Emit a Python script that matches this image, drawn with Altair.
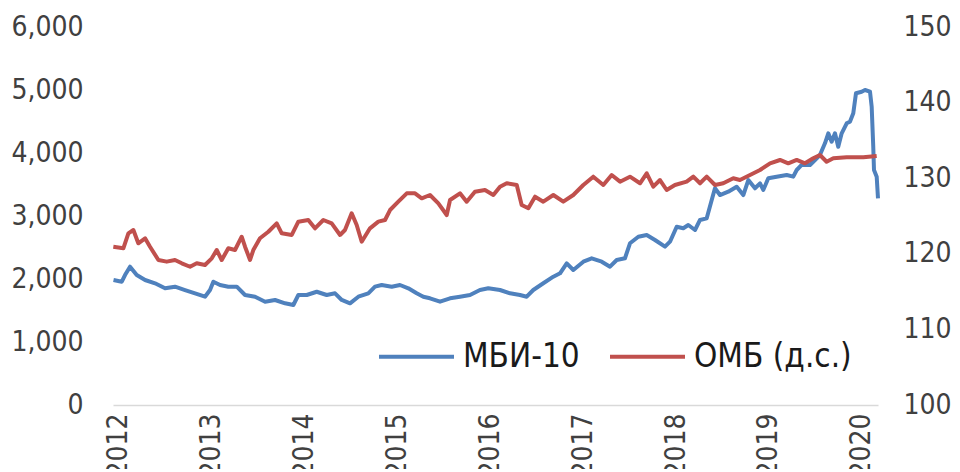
import altair as alt
import pandas as pd

# Decimal-year positions and values
mbi_t = [2011.978, 2012.067, 2012.102, 2012.156, 2012.228, 2012.318, 2012.425, 2012.533, 2012.640, 2012.748,
         2012.856, 2012.963, 2013.017, 2013.053, 2013.125, 2013.214, 2013.305, 2013.394, 2013.502, 2013.610,
         2013.717, 2013.825, 2013.914, 2013.968, 2014.058, 2014.166, 2014.273, 2014.363, 2014.435, 2014.524,
         2014.614, 2014.721, 2014.793, 2014.865, 2014.973, 2015.062, 2015.152, 2015.242, 2015.313, 2015.385,
         2015.493, 2015.601, 2015.708, 2015.816, 2015.923, 2016.013, 2016.139, 2016.247, 2016.354, 2016.426,
         2016.497, 2016.605, 2016.713, 2016.785, 2016.857, 2016.928, 2017.036, 2017.126, 2017.234, 2017.323,
         2017.395, 2017.484, 2017.538, 2017.628, 2017.718, 2017.807, 2017.915, 2017.969, 2018.041, 2018.112,
         2018.166, 2018.238, 2018.292, 2018.364, 2018.418, 2018.453, 2018.507, 2018.596, 2018.687, 2018.758,
         2018.812, 2018.884, 2018.938, 2018.973, 2019.027, 2019.117, 2019.225, 2019.296, 2019.333, 2019.386,
         2019.476, 2019.530, 2019.583, 2019.637, 2019.673, 2019.709, 2019.745, 2019.780, 2019.817, 2019.871,
         2019.906, 2019.942, 2019.971, 2020.032, 2020.068, 2020.122, 2020.140, 2020.157, 2020.165, 2020.194,
         2020.208]
mbi_v = [1984, 1957, 2063, 2195, 2063, 1984, 1932, 1852, 1878, 1825,
         1773, 1719, 1825, 1957, 1905, 1878, 1878, 1746, 1719, 1640,
         1667, 1614, 1587, 1746, 1746, 1798, 1746, 1773, 1667, 1614,
         1719, 1773, 1878, 1905, 1878, 1905, 1852, 1773, 1719, 1694,
         1640, 1694, 1719, 1746, 1825, 1852, 1825, 1773, 1746, 1719,
         1825, 1932, 2037, 2090, 2249, 2143, 2275, 2329, 2275, 2195,
         2302, 2329, 2567, 2671, 2698, 2619, 2513, 2592, 2830, 2805,
         2857, 2778, 2937, 2963, 3254, 3440, 3333, 3386, 3465, 3333,
         3571, 3440, 3519, 3413, 3598, 3624, 3651, 3624, 3730, 3810,
         3810, 3889, 3968, 4154, 4313, 4179, 4313, 4100, 4313, 4471,
         4497, 4630, 4948, 4973, 5000, 4973, 4735, 4100, 3730, 3624,
         3281]

omb_t = [2011.976, 2012.084, 2012.138, 2012.192, 2012.245, 2012.318, 2012.371, 2012.461, 2012.551, 2012.640,
         2012.713, 2012.802, 2012.874, 2012.963, 2013.036, 2013.089, 2013.143, 2013.214, 2013.286, 2013.358,
         2013.394, 2013.448, 2013.483, 2013.555, 2013.645, 2013.735, 2013.789, 2013.897, 2013.968, 2014.075,
         2014.147, 2014.237, 2014.327, 2014.417, 2014.470, 2014.542, 2014.596, 2014.650, 2014.739, 2014.829,
         2014.901, 2014.955, 2015.044, 2015.135, 2015.224, 2015.296, 2015.385, 2015.475, 2015.565, 2015.601,
         2015.708, 2015.780, 2015.869, 2015.977, 2016.067, 2016.139, 2016.211, 2016.319, 2016.372, 2016.444,
         2016.516, 2016.605, 2016.713, 2016.820, 2016.928, 2017.036, 2017.143, 2017.251, 2017.341, 2017.431,
         2017.538, 2017.646, 2017.718, 2017.789, 2017.861, 2017.933, 2018.022, 2018.148, 2018.220, 2018.292,
         2018.364, 2018.453, 2018.542, 2018.650, 2018.722, 2018.830, 2018.938, 2019.046, 2019.153, 2019.242,
         2019.333, 2019.422, 2019.511, 2019.583, 2019.655, 2019.727, 2019.871, 2020.050, 2020.194]
omb_v = [120.94, 120.73, 122.71, 123.15, 121.39, 122.05, 120.94, 119.18, 118.96, 119.18,
         118.74, 118.29, 118.74, 118.52, 119.40, 120.50, 119.18, 120.73, 120.50, 122.26,
         120.94, 119.18, 120.50, 122.05, 122.92, 124.03, 122.71, 122.49, 124.25, 124.47,
         123.37, 124.47, 124.03, 122.49, 123.15, 125.36, 123.81, 121.60, 123.37, 124.25,
         124.47, 125.79, 126.89, 128.00, 128.00, 127.34, 127.78, 126.68, 125.13, 127.12,
         128.00, 126.89, 128.21, 128.44, 127.78, 128.88, 129.33, 129.10, 126.46, 126.02,
         127.55, 126.89, 127.78, 126.89, 127.78, 129.10, 130.20, 129.10, 130.42, 129.54,
         130.20, 129.33, 130.65, 128.88, 129.76, 128.44, 129.10, 129.54, 130.20, 129.33,
         130.20, 129.10, 129.33, 129.99, 129.76, 130.42, 131.08, 131.97, 132.41, 131.97,
         132.41, 131.97, 132.63, 133.07, 132.18, 132.63, 132.76, 132.76, 132.94]

series_names = ["МБИ-10", "ОМБ (д.с.)"]
series_colors = ["#4F81BD", "#C0504D"]
left_ticks = [0, 1000, 2000, 3000, 4000, 5000, 6000]
right_ticks = [100, 110, 120, 130, 140, 150]
years = list(range(2012, 2021))

FONT = "DejaVu Sans Condensed, DejaVu Sans"
AXIS_COLOR = "#404040"

# calendar date at which the decimal-year readings above equal 2012.0
READ_ORIGIN = pd.Timestamp("2011-12-20")


def to_dates(ts):
    return [(READ_ORIGIN + pd.to_timedelta((t - 2012) * 365.25, unit="D")).strftime("%Y-%m-%dT%H:%M:%S")
            for t in ts]


df_mbi = pd.DataFrame({"date": to_dates(mbi_t), "value": mbi_v, "series": series_names[0]})
df_omb = pd.DataFrame({"date": to_dates(omb_t), "value": omb_v, "series": series_names[1]})

x_enc = alt.X(
    "date:T",
    scale=alt.Scale(domain=[alt.DateTime(year=2011, month=12, date=10),
                            alt.DateTime(year=2020, month=3, date=5)]),
    axis=alt.Axis(
        title=None,
        values=[alt.DateTime(year=y, month=1, date=1) for y in years],
        format="%Y",
        labelAngle=270,
        labelFont=FONT,
        labelFontSize=28,
        labelColor=AXIS_COLOR,
        labelPadding=8,
        labelOverlap=False,
        labelFlush=False,
        labelBound=False,
        ticks=False,
        grid=False,
        domainColor="#d9d9d9",
        domainWidth=1.5,
    ),
)

color_enc = alt.Color(
    "series:N",
    scale=alt.Scale(domain=series_names, range=series_colors),
    legend=alt.Legend(
        title=None,
        orient="none",
        legendX=264,
        legendY=290,
        direction="horizontal",
        symbolType="stroke",
        symbolSize=5625,
        symbolStrokeWidth=4,
        labelFont=FONT,
        labelFontSize=33,
        labelColor="#1a1a1a",
        labelOffset=7,
        columnPadding=22,
        padding=0,
    ),
)

blue = alt.Chart(df_mbi).mark_line(strokeWidth=4, strokeJoin="round").encode(
    x=x_enc,
    y=alt.Y(
        "value:Q",
        scale=alt.Scale(domain=[0, 6000], nice=False),
        axis=alt.Axis(
            orient="left", title=None, values=left_ticks, format=",.0f",
            labelFont=FONT, labelFontSize=28, labelColor=AXIS_COLOR,
            labelPadding=30, ticks=False, domain=False, grid=False,
        ),
    ),
    color=color_enc,
)

red = alt.Chart(df_omb).mark_line(strokeWidth=4, strokeJoin="round").encode(
    x=x_enc,
    y=alt.Y(
        "value:Q",
        scale=alt.Scale(domain=[100, 150], nice=False),
        axis=alt.Axis(
            orient="right", title=None, values=right_ticks, format="d",
            labelFont=FONT, labelFontSize=28, labelColor=AXIS_COLOR,
            labelPadding=25, ticks=False, domain=False, grid=False,
        ),
    ),
    color=color_enc,
)

chart = (
    alt.layer(blue, red)
    .resolve_scale(y="independent")
    .properties(
        width=765,
        height=378,
        padding={"left": 105, "top": 19, "right": 74, "bottom": 64},
        autosize=alt.AutoSizeParams(type="none"),
        background="white",
    )
    .configure_view(stroke=None)
)

chart.save("out.html", embed_options={"renderer": "svg", "actions": False})
